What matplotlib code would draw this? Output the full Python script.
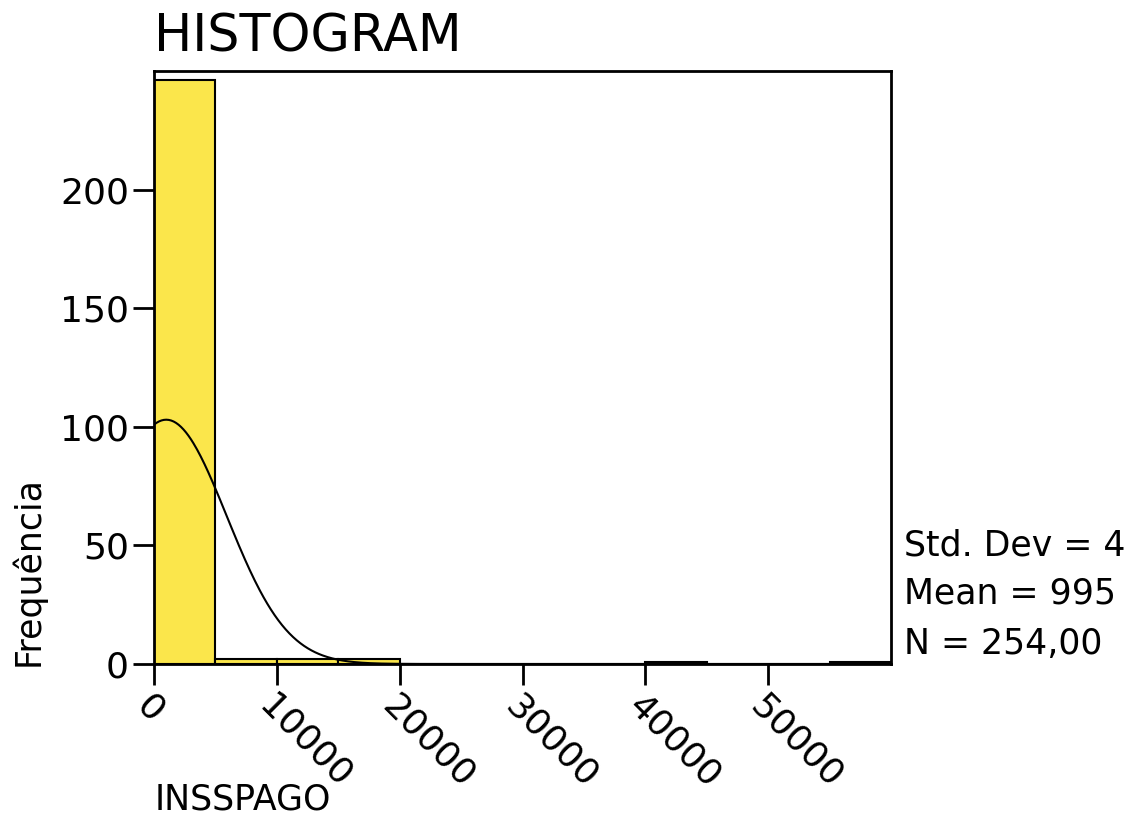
import numpy as np
import matplotlib
matplotlib.use("Agg")
import matplotlib.pyplot as plt

# histogram bins (INSSPAGO) and counts
bin_edges = [0, 5000, 10000, 15000, 20000, 25000, 30000, 35000, 40000, 45000, 50000, 55000, 60000]
counts = [246, 2, 2, 2, 0, 0, 0, 0, 1, 0, 0, 1]
mean_val = 995.2
std_val = 4919.27
n_obs = 254

y_ticks = [0, 50, 100, 150, 200]
x_ticks = [0, 10000, 20000, 30000, 40000, 50000]
# stats box text as it shows in the picture (cut at the right edge there)
stats = ["Std. Dev = 4", "Mean = 995", "N = 254,00"]

fig = plt.figure(figsize=(11.31, 8.17), dpi=100)
ax = fig.add_axes([154 / 1131, 1 - 664 / 817, (891 - 154) / 1131, (664 - 71) / 817])

widths = np.diff(bin_edges)
ax.bar(bin_edges[:-1], counts, width=widths, align="edge",
       color="#fbe64b", edgecolor="black", linewidth=1.5)

# normal curve scaled to counts
xs = np.linspace(0, 60000, 600)
bw = bin_edges[1] - bin_edges[0]
ys = n_obs * bw * np.exp(-0.5 * ((xs - mean_val) / std_val) ** 2) / (std_val * np.sqrt(2 * np.pi))
ax.plot(xs, ys, color="black", linewidth=1.5)

ax.set_xlim(0, 60000)
ax.set_ylim(0, 250)
ax.set_yticks(y_ticks)
ax.set_xticks(x_ticks)
ax.set_xticklabels([str(t) for t in x_ticks], rotation=-45, ha="left", va="top",
                   rotation_mode="anchor")
ax.tick_params(axis="both", labelsize=26, length=15, width=2, pad=3, direction="out")
for s in ax.spines.values():
    s.set_linewidth(2)

fig.text(154 / 1131, 1 - 37 / 817, "HISTOGRAM", fontsize=36.5, ha="left", va="center")
fig.text(155 / 1131, 1 - 800 / 817, "INSSPAGO", fontsize=25, ha="left", va="center")
fig.text(28 / 1131, 1 - 571 / 817, "Frequência", fontsize=25, rotation=90,
         ha="center", va="center")

for txt, ypx in zip(stats, [545, 594, 644]):
    fig.text(904 / 1131, 1 - ypx / 817, txt, fontsize=25, ha="left", va="center")

fig.savefig("out.png", dpi=100)
